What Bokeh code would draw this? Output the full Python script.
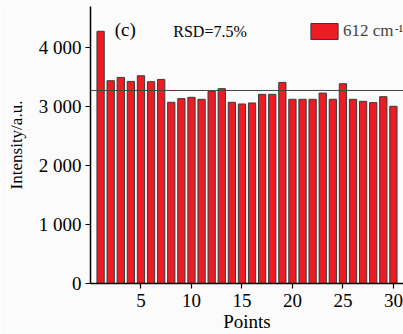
from bokeh.plotting import figure
from bokeh.models import FixedTicker, Range1d, Span, Label, Legend, LegendItem, ColumnDataSource
from bokeh.embed import file_html
from bokeh.resources import INLINE

points = list(range(1, 31))
intensity = [4279, 3441, 3497, 3429, 3525, 3424, 3463, 3074, 3137, 3159,
             3125, 3260, 3306, 3074, 3046, 3063, 3209, 3209, 3412, 3125,
             3125, 3125, 3231, 3125, 3390, 3125, 3091, 3069, 3170, 3007]
mean_line = 3275
y_ticks = [0, 1000, 2000, 3000, 4000]
y_tick_labels = ["0", "1 000", "2 000", "3 000", "4 000"]
x_ticks = [5, 10, 15, 20, 25, 30]
legend_label = "612 cm"
legend_sup = "-1"
panel_label = "(c)"
rsd_label = "RSD=7.5%"

FONT = "Liberation Serif"

p = figure(width=403, height=334, output_backend="svg", toolbar_location=None,
           x_range=Range1d(0, 31), y_range=Range1d(0, 4700),
           min_border_left=90, min_border_bottom=50, min_border_top=6, min_border_right=0)
p.background_fill_color = "#fbfbfb"
p.border_fill_color = "#fbfbfb"
p.outline_line_color = None
p.grid.visible = False

src = ColumnDataSource(dict(x=points, y=intensity))
r = p.vbar(x="x", top="y", width=0.72, source=src, fill_color="#ED1C24",
           line_color="#3a3a3a", line_width=1)

p.add_layout(Span(location=mean_line, dimension="width", line_color="#444444", line_width=1))

for ax in (p.xaxis[0], p.yaxis[0]):
    ax.axis_line_color = "black"
    ax.axis_line_width = 1.5
    ax.major_tick_line_color = "black"
    ax.major_tick_line_width = 1.2
    ax.major_tick_out = 5
    ax.major_tick_in = 0
    ax.minor_tick_line_color = None
    ax.major_label_text_font = FONT
    ax.major_label_text_font_size = "19px"
    ax.major_label_text_color = "black"
    ax.axis_label_text_font = FONT
    ax.axis_label_text_font_style = "normal"
    ax.axis_label_text_color = "black"

p.yaxis.ticker = FixedTicker(ticks=y_ticks)
p.yaxis.major_label_overrides = {t: l for t, l in zip(y_ticks, y_tick_labels)}
p.yaxis.axis_label = "Intensity/a.u."
p.yaxis.axis_label_text_font_size = "17px"
p.yaxis.major_label_standoff = 4
p.yaxis.axis_label_standoff = 10
p.xaxis.ticker = FixedTicker(ticks=x_ticks)
p.xaxis.axis_label = "Points"
p.xaxis.axis_label_text_font_size = "19px"
p.xaxis.major_label_standoff = 5
p.xaxis.axis_label_standoff = 1

p.add_layout(Label(x=2.4, y=4307, text=panel_label, text_font=FONT,
                   text_font_size="19px", text_color="black", text_baseline="alphabetic"))
p.add_layout(Label(x=8.2, y=4274, text=rsd_label, text_font=FONT,
                   text_font_size="16px", text_color="black", text_baseline="alphabetic"))

legend = Legend(items=[LegendItem(label=legend_label, renderers=[r])],
                location=(217, 242), border_line_color=None,
                background_fill_alpha=0, label_text_font=FONT,
                label_text_font_size="17px", glyph_width=34, glyph_height=20,
                margin=0, padding=0, label_standoff=2, label_height=20)
p.add_layout(legend)
p.add_layout(Label(x=30.15, y=4390, text=legend_sup, text_font=FONT,
                   text_font_size="10px", text_color="black", text_baseline="top"))

open("out.html", "w").write(file_html(p, INLINE))
